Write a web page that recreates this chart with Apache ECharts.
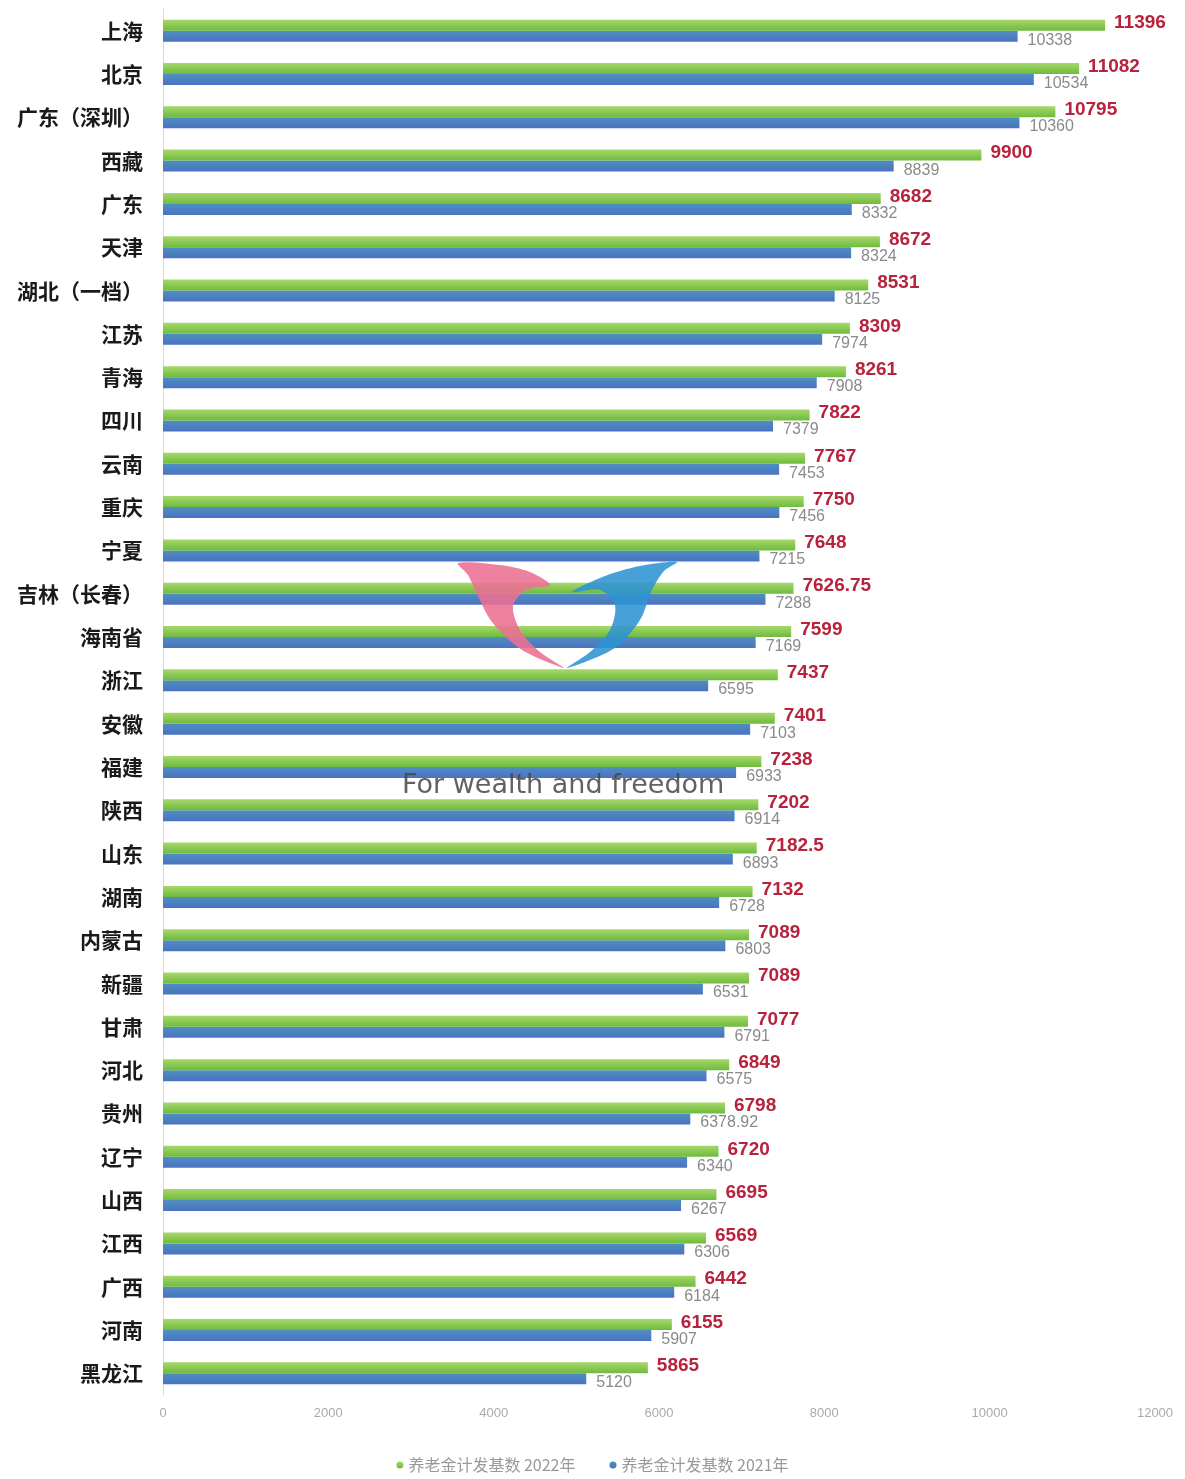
<!DOCTYPE html>
<html>
<head>
<meta charset="utf-8">
<script src="https://cdn.jsdelivr.net/npm/echarts@6/dist/echarts.min.js"></script>
<style>
    html, body { margin: 0; padding: 0; background: #fff; }
    #main { width: 1185px; height: 1479px; }
</style>
</head>
<body>
<div id="main"></div>
<script>
// 省份 / 城市
var cities = ['上海', '北京', '广东（深圳）', '西藏', '广东', '天津', '湖北（一档）', '江苏', '青海', '四川',
    '云南', '重庆', '宁夏', '吉林（长春）', '海南省', '浙江', '安徽', '福建', '陕西', '山东',
    '湖南', '内蒙古', '新疆', '甘肃', '河北', '贵州', '辽宁', '山西', '江西', '广西', '河南', '黑龙江'];
// 养老金计发基数 2022年
var base2022 = [11396, 11082, 10795, 9900, 8682, 8672, 8531, 8309, 8261, 7822,
    7767, 7750, 7648, 7626.75, 7599, 7437, 7401, 7238, 7202, 7182.5,
    7132, 7089, 7089, 7077, 6849, 6798, 6720, 6695, 6569, 6442, 6155, 5865];
// 养老金计发基数 2021年
var base2021 = [10338, 10534, 10360, 8839, 8332, 8324, 8125, 7974, 7908, 7379,
    7453, 7456, 7215, 7288, 7169, 6595, 7103, 6933, 6914, 6893,
    6728, 6803, 6531, 6791, 6575, 6378.92, 6340, 6267, 6306, 6184, 5907, 5120];
var xTicks = [0, 2000, 4000, 6000, 8000, 10000, 12000];

var chart = echarts.init(document.getElementById('main'));

var option = {
    animation: false,
    backgroundColor: '#ffffff',
    grid: {
        left: 163,
        right: 30,
        top: 9,
        bottom: 84
    },
    legend: {
        bottom: 1,
        left: 'center',
        itemGap: 34,
        icon: 'circle',
        itemWidth: 7,
        itemHeight: 7,
        textStyle: { color: '#999', fontSize: 16, fontFamily: 'Noto Sans CJK SC' },
        data: ['养老金计发基数 2022年', '养老金计发基数 2021年']
    },
    xAxis: {
        type: 'value',
        min: xTicks[0],
        max: xTicks[xTicks.length - 1],
        interval: 2000,
        axisLine: { show: false },
        axisTick: { show: false },
        splitLine: { show: false },
        axisLabel: {
            color: '#aaa',
            fontSize: 13,
            margin: 12,
            formatter: function (v) { return String(v); }
        }
    },
    yAxis: {
        type: 'category',
        inverse: true,
        data: cities,
        axisLine: { show: true, lineStyle: { color: '#d9d9d9', width: 1 } },
        axisTick: { show: false },
        axisLabel: {
            color: '#1a1a1a',
            fontSize: 21,
            fontWeight: 'bold',
            fontFamily: 'Noto Sans CJK SC',
            margin: 20
        }
    },
    series: [
        {
            name: '养老金计发基数 2022年',
            type: 'bar',
            data: base2022,
            barWidth: 11,
            barGap: '0%',
            itemStyle: {
                color: {
                    type: 'linear', x: 0, y: 0, x2: 0, y2: 1,
                    colorStops: [
                        { offset: 0, color: '#a6d86a' },
                        { offset: 1, color: '#6fba3e' }
                    ]
                }
            },
            label: {
                show: true,
                position: 'right',
                distance: 9,
                offset: [0, -2],
                color: '#b8223c',
                fontSize: 19,
                fontWeight: 'bold',
                fontFamily: 'Liberation Sans'
            },
            z: 3
        },
        {
            name: '养老金计发基数 2021年',
            type: 'bar',
            data: base2021,
            barWidth: 11,
            barGap: '0%',
            itemStyle: {
                color: {
                    type: 'linear', x: 0, y: 0, x2: 0, y2: 1,
                    colorStops: [
                        { offset: 0, color: '#4f8fbf' },
                        { offset: 1, color: '#4a72c2' }
                    ]
                }
            },
            label: {
                show: true,
                position: 'right',
                distance: 10,
                offset: [0, 4],
                color: '#8a8a8a',
                fontSize: 16,
                fontFamily: 'Liberation Sans'
            },
            z: 2
        }
    ],
    graphic: [
        {
            type: 'polygon',
            z: 10,
            shape: {
                points: [[458, 563], [500, 565], [530, 572], [550, 585], [526, 590], [513, 606],
                    [520, 630], [540, 652], [564, 668], [522, 650], [492, 622], [478, 596], [468, 575]],
                smooth: 0.3
            },
            style: { fill: '#ec6f93', opacity: 0.88 }
        },
        {
            type: 'polygon',
            z: 10,
            shape: {
                points: [[677, 562], [640, 566], [605, 576], [572, 592], [600, 590], [615, 605],
                    [610, 630], [590, 652], [567, 668], [615, 648], [640, 620], [652, 590], [664, 571]],
                smooth: 0.3
            },
            style: { fill: '#2e93d1', opacity: 0.88 }
        },
        {
            type: 'text',
            z: 10,
            left: 402,
            top: 772,
            style: {
                text: 'For wealth and freedom',
                fill: 'rgba(70,70,70,0.85)',
                fontSize: 27,
                fontFamily: 'DejaVu Sans'
            }
        }
    ]
};

chart.setOption(option);
</script>
</body>
</html>
